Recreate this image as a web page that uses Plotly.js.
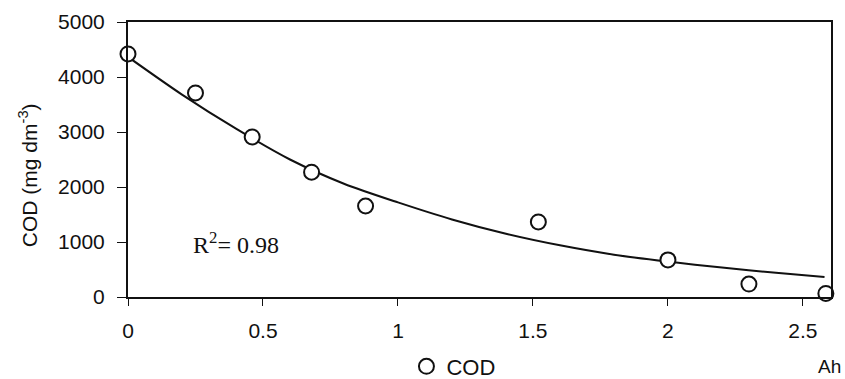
<!DOCTYPE html>
<html>
<head>
<meta charset="utf-8">
<script src="https://cdn.plot.ly/plotly-3.0.1.min.js"></script>
<style>
html,body{margin:0;padding:0;background:#fff;}
#chart{width:845px;height:379px;}
</style>
</head>
<body>
<div id="chart"></div>
<script>
// Measured COD values
const timeAh = [0.0, 0.25, 0.46, 0.68, 0.88, 1.52, 2.0, 2.30, 2.585];
const codValues = [4420, 3710, 2910, 2270, 1655, 1365, 675, 235, 65];

// Fitted trend line
const fitX = [0, 0.2, 0.4, 0.6, 0.8, 1.0, 1.2, 1.4, 1.6, 1.8, 2.0, 2.2, 2.4, 2.58];
const fitY = [4365, 3680, 3060, 2500, 2060, 1720, 1410, 1150, 940, 770, 645, 535, 440, 365];

const xTicks = [0, 0.5, 1, 1.5, 2, 2.5];
const xTickText = ['0', '0.5', '1', '1.5', '2', '2.5'];
const yTicks = [0, 1000, 2000, 3000, 4000, 5000];
const yTickText = ['0', '1000', '2000', '3000', '4000', '5000'];

const sans = 'Arial, "Liberation Sans", sans-serif';
const serif = '"Times New Roman", "Liberation Serif", serif';
const ink = '#111';

const traces = [
  {
    x: fitX, y: fitY, type: 'scatter', mode: 'lines',
    line: {color: ink, width: 2, shape: 'spline', smoothing: 0.8},
    showlegend: false, hoverinfo: 'skip', cliponaxis: false
  },
  {
    x: timeAh, y: codValues, type: 'scatter', mode: 'markers', name: 'COD',
    marker: {symbol: 'circle', size: 15, color: '#ffffff', line: {color: ink, width: 2}},
    cliponaxis: false
  }
];

const layout = {
  width: 845, height: 379,
  margin: {l: 128, r: 14, t: 22, b: 82},
  paper_bgcolor: '#fff', plot_bgcolor: '#fff',
  font: {family: sans, color: ink, size: 21},
  showlegend: true,
  legend: {
    orientation: 'h', xref: 'container', yref: 'container',
    x: 0.481, xanchor: 'left', y: 0.033, yanchor: 'middle',
    font: {family: sans, size: 22, color: ink},
    bgcolor: 'rgba(0,0,0,0)', itemwidth: 30
  },
  xaxis: {
    range: [0, 2.604], tickvals: xTicks, ticktext: xTickText,
    showgrid: false, zeroline: false,
    showline: true, linecolor: ink, linewidth: 2, mirror: true,
    ticks: 'outside', ticklen: 7, tickwidth: 1, tickcolor: ink,
    tickfont: {family: sans, size: 21, color: ink},
    ticklabelstandoff: 7
  },
  yaxis: {
    range: [0, 5000], tickvals: yTicks, ticktext: yTickText,
    showgrid: false, zeroline: false,
    showline: true, linecolor: ink, linewidth: 2, mirror: true,
    ticks: 'outside', ticklen: 9, tickwidth: 1, tickcolor: ink,
    tickfont: {family: sans, size: 21, color: ink},
    ticklabelstandoff: 8
  },
  annotations: [
    {
      text: 'COD (mg dm<sup>-3</sup>)', xref: 'paper', yref: 'paper',
      x: -0.142, y: 0.4436, xanchor: 'center', yanchor: 'middle',
      textangle: -90, showarrow: false,
      font: {family: sans, size: 21, color: ink}
    },
    {
      text: 'R<sup>2</sup>= 0.98', xref: 'x', yref: 'y',
      x: 0.40, y: 990, xanchor: 'center', yanchor: 'middle',
      showarrow: false,
      font: {family: serif, size: 24, color: ink}
    },
    {
      text: 'Ah', xref: 'paper', yref: 'paper',
      x: 0.9972, y: -0.252, xanchor: 'center', yanchor: 'middle',
      showarrow: false, borderpad: 0,
      font: {family: sans, size: 19, color: ink}
    }
  ]
};

Plotly.newPlot('chart', traces, layout, {displayModeBar: false, staticPlot: true});
</script>
</body>
</html>
